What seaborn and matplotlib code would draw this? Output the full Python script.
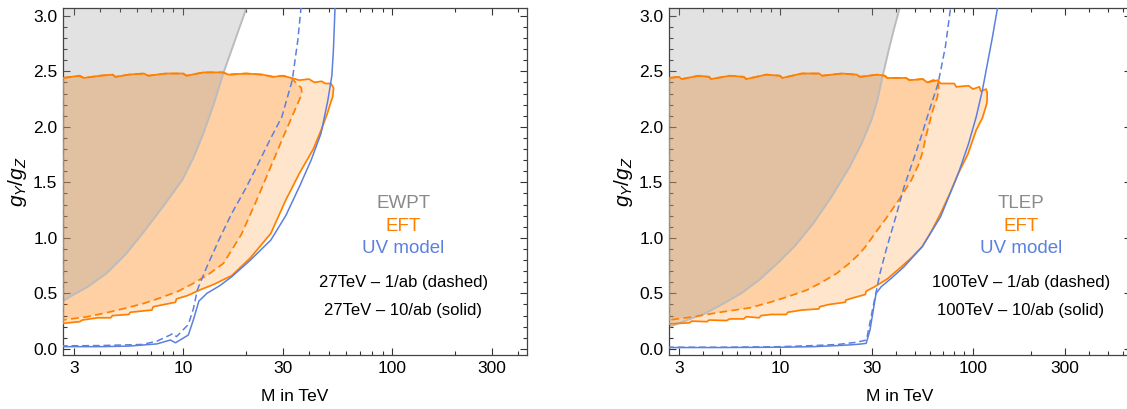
import matplotlib
matplotlib.use('Agg')
import matplotlib.pyplot as plt
import seaborn as sns
from matplotlib.ticker import FixedLocator, FixedFormatter, NullFormatter

# ---- 27 TeV panel data (M in TeV, g_Y/g_Z) ----
ewpt_M = [2.6, 3.0, 3.5, 4.3, 5.3, 6.4, 8.0, 9.9, 11.2, 12.5, 14.0, 15.5, 17.5, 19.5, 20.5]
ewpt_g = [0.42, 0.49, 0.56, 0.68, 0.85, 1.04, 1.28, 1.52, 1.72, 1.94, 2.20, 2.47, 2.75, 3.00, 3.12]

top27_M = [3.2, 3.35, 4.0, 4.6, 4.75, 5.5, 6.5, 6.8, 8.3, 10.0, 10.4, 12.5, 15.5, 16.5, 20.0, 24.0, 27.0, 30.0, 33.0]
top27_g = [2.46, 2.44, 2.46, 2.47, 2.45, 2.47, 2.48, 2.46, 2.48, 2.48, 2.46, 2.49, 2.49, 2.47, 2.48, 2.47, 2.45, 2.46, 2.44]

sol27_right_M = [36.0, 40.0, 42.5, 46.0, 48.0, 51.0, 52.5, 52.0, 51.3, 49.0, 46.0, 42.0, 36.0, 31.0, 26.3, 21.0, 17.1,
                 14.0, 12.0, 10.5, 9.3, 9.2, 7.2, 7.1, 5.6, 5.5, 4.6, 4.5, 3.9, 3.3, 3.2, 2.665]
sol27_right_g = [2.42, 2.43, 2.40, 2.41, 2.39, 2.39, 2.35, 2.27, 2.24, 2.12, 1.98, 1.80, 1.58, 1.34, 1.04, 0.82, 0.66,
                 0.58, 0.53, 0.48, 0.45, 0.42, 0.38, 0.35, 0.33, 0.31, 0.30, 0.28, 0.28, 0.26, 0.245, 0.23]

dash27_right_M = [34.5, 36.8, 37.0, 36.5, 33.0, 29.7, 26.0, 22.5, 19.0, 15.6, 13.2, 11.2, 9.5, 7.8, 6.5, 5.4, 4.4, 3.5, 2.665]
dash27_right_g = [2.40, 2.35, 2.30, 2.27, 2.08, 1.88, 1.62, 1.34, 1.03, 0.77, 0.67, 0.59, 0.52, 0.46, 0.41, 0.37, 0.33, 0.29, 0.26]

uv27_sol_M = [2.6, 4.0, 5.5, 7.5, 8.7, 9.2, 10.6, 11.2, 11.9, 13.0, 15.0, 17.1, 21.0, 26.3, 31.0, 36.0, 41.0, 45.7, 49.3, 51.5, 52.4, 53.4]
uv27_sol_g = [0.02, 0.02, 0.025, 0.045, 0.08, 0.055, 0.125, 0.26, 0.43, 0.50, 0.57, 0.65, 0.80, 0.98, 1.20, 1.46, 1.70, 1.94, 2.24, 2.46, 2.69, 3.10]

uv27_dash_M = [2.6, 4.0, 6.4, 7.5, 8.7, 8.95, 9.3, 10.6, 11.2, 11.7, 13.0, 15.0, 17.1, 20.0, 22.5, 26.0, 29.7, 33.3, 35.4, 36.8]
uv27_dash_g = [0.027, 0.03, 0.04, 0.07, 0.126, 0.14, 0.11, 0.22, 0.36, 0.53, 0.74, 1.00, 1.22, 1.45, 1.64, 1.88, 2.09, 2.42, 2.78, 3.10]

# ---- 100 TeV panel data ----
tlep_M = [2.6, 3.2, 4.1, 5.0, 6.3, 7.8, 9.7, 12.0, 14.9, 18.5, 23.0, 26.5, 29.8, 32.0, 34.0, 36.5, 39.0, 42.5]
tlep_g = [0.19, 0.25, 0.32, 0.40, 0.50, 0.62, 0.77, 0.93, 1.13, 1.37, 1.64, 1.85, 2.06, 2.24, 2.45, 2.68, 2.88, 3.12]

top100_M = [3.0, 3.1, 3.8, 4.3, 4.4, 5.5, 6.5, 6.7, 8.5, 10.0, 10.3, 13.0, 16.0, 16.5, 21.0, 25.0, 26.0, 32.0, 35.0,
            36.0, 45.0, 47.0, 55.0, 58.0]
top100_g = [2.45, 2.43, 2.46, 2.45, 2.43, 2.46, 2.45, 2.43, 2.47, 2.46, 2.44, 2.48, 2.48, 2.46, 2.48, 2.47, 2.45, 2.47, 2.46,
            2.44, 2.44, 2.42, 2.43, 2.40]

sol100_right_M = [66.0, 68.0, 80.0, 82.0, 95.0, 100.0, 108.0, 110.0, 117.0, 118.5, 118.5, 118.0, 112.0, 104.0, 94.0, 84.0,
                  76.0, 68.0, 61.0, 54.6, 48.0, 42.0, 36.0, 31.0, 28.0, 27.7, 24.0, 22.0, 21.8, 18.0, 16.1, 15.9, 13.0,
                  11.0, 10.8, 9.0, 8.0, 7.8, 6.7, 6.5, 5.5, 5.3, 4.3, 4.2, 3.5, 3.4, 2.665]
sol100_right_g = [2.42, 2.39, 2.39, 2.36, 2.37, 2.34, 2.36, 2.32, 2.34, 2.31, 2.25, 2.21, 2.08, 1.97, 1.75, 1.58,
                  1.40, 1.22, 1.06, 0.92, 0.82, 0.73, 0.63, 0.56, 0.52, 0.49, 0.46, 0.44, 0.42, 0.40, 0.38, 0.36, 0.35,
                  0.33, 0.31, 0.31, 0.30, 0.28, 0.29, 0.27, 0.27, 0.255, 0.26, 0.245, 0.25, 0.235, 0.225]

dash100_right_M = [62.0, 66.0, 66.5, 65.5, 62.0, 58.0, 54.6, 52.3, 48.0, 42.0, 36.0, 32.0, 28.6, 26.0, 22.5, 19.7, 16.5,
                   13.8, 11.0, 8.9, 7.0, 4.9, 3.6, 2.665]
dash100_right_g = [2.42, 2.42, 2.36, 2.27, 2.15, 1.96, 1.76, 1.66, 1.52, 1.36, 1.19, 1.07, 0.95, 0.86, 0.76, 0.68, 0.60,
                   0.53, 0.47, 0.42, 0.37, 0.33, 0.29, 0.26]

uv100_sol_M = [2.6, 5.0, 10.0, 14.9, 20.0, 23.0, 26.0, 28.0, 29.3, 31.5, 33.5, 38.0, 44.0, 54.6, 68.0, 84.0, 95.0, 104.0,
               112.0, 118.0, 126.0, 135.0]
uv100_sol_g = [0.012, 0.012, 0.015, 0.02, 0.03, 0.036, 0.043, 0.05, 0.17, 0.50, 0.56, 0.64, 0.74, 0.92, 1.19, 1.58, 1.85,
               2.09, 2.33, 2.54, 2.80, 3.10]

uv100_dash_M = [2.6, 5.0, 10.0, 15.0, 20.0, 25.0, 28.1, 29.0, 30.4, 33.0, 35.5, 40.0, 44.0, 50.0, 54.6, 60.0, 66.0, 72.0, 77.0]
uv100_dash_g = [0.015, 0.015, 0.02, 0.03, 0.04, 0.06, 0.08, 0.20, 0.38, 0.68, 0.89, 1.20, 1.46, 1.74, 1.94, 2.17, 2.39, 2.72, 3.10]

x_major = [3, 10, 30, 100, 300]
x_major_labels = ['3', '10', '30', '100', '300']
x_minor = [4, 5, 6, 7, 8, 9, 20, 40, 50, 60, 70, 80, 90, 200, 400, 500, 600]
y_major = [0.0, 0.5, 1.0, 1.5, 2.0, 2.5, 3.0]
y_minor = [i / 10 for i in range(31)]

ORANGE = '#ff8000'
BLUE = '#5b80dd'

sns.set_theme(style='ticks')
plt.rcParams['font.family'] = ['Liberation Sans', 'DejaVu Sans']
plt.rcParams['mathtext.fontset'] = 'custom'
plt.rcParams['mathtext.rm'] = 'Liberation Sans'
plt.rcParams['mathtext.it'] = 'Liberation Sans:italic'


def outline(start_g, top_M, top_g, right_M, right_g):
    # closed region: left edge, jagged top, right side and lower edge back to the start
    M = [2.665, 2.665] + top_M + right_M + [2.665]
    g = [start_g, 2.44] + top_g + right_g + [start_g]
    return M, g


def panel(ax, gray_M, gray_g, sol, dash, uv_sol, uv_dash, texts, xmax):
    ax.set_xscale('log')
    ax.fill(sol[0], sol[1], color=ORANGE, alpha=0.2, lw=0, zorder=1)
    ax.fill(dash[0], dash[1], color=ORANGE, alpha=0.2, lw=0, zorder=1)
    ax.fill_between(gray_M, gray_g, 3.3, color='#a0a0a0', alpha=0.3, lw=0, zorder=2)
    sns.lineplot(x=gray_M, y=gray_g, sort=False, estimator=None, color='#bcbcbc', lw=1.4, ax=ax, zorder=2.5)
    sns.lineplot(x=sol[0], y=sol[1], sort=False, estimator=None, color=ORANGE, lw=1.25, ax=ax, zorder=3)
    sns.lineplot(x=dash[0], y=dash[1], sort=False, estimator=None, color=ORANGE, lw=1.25,
                 linestyle=(0, (4.5, 2.5)), ax=ax, zorder=3)
    sns.lineplot(x=uv_sol[0], y=uv_sol[1], sort=False, estimator=None, color=BLUE, lw=1.1, ax=ax, zorder=4)
    sns.lineplot(x=uv_dash[0], y=uv_dash[1], sort=False, estimator=None, color=BLUE, lw=1.1,
                 linestyle=(0, (4.5, 2.5)), ax=ax, zorder=4)

    ax.set_xlim(2.665, xmax)
    ax.set_ylim(-0.055, 3.07)
    ax.xaxis.set_major_locator(FixedLocator(x_major))
    ax.xaxis.set_major_formatter(FixedFormatter(x_major_labels))
    ax.xaxis.set_minor_locator(FixedLocator(x_minor))
    ax.xaxis.set_minor_formatter(NullFormatter())
    ax.yaxis.set_major_locator(FixedLocator(y_major))
    ax.yaxis.set_minor_locator(FixedLocator(y_minor))
    ax.yaxis.set_major_formatter(FixedFormatter(['0.0', '0.5', '1.0', '1.5', '2.0', '2.5', '3.0']))
    ax.tick_params(which='both', direction='in', top=True, right=True, color='#333333',
                   labelsize=12.5, labelcolor='black', pad=4)
    ax.tick_params(which='major', length=5, width=0.8)
    ax.tick_params(which='minor', length=3, width=0.8)
    for s in ax.spines.values():
        s.set_color('#444444')
        s.set_linewidth(0.9)
    ax.set_xlabel('M in TeV', fontsize=12.5, color='black', labelpad=10)
    ax.set_ylabel(r'$g_Y/g_Z$', fontsize=15, color='black', labelpad=3)

    xt, names = texts
    ax.text(xt, 1.31, names[0], color='#8a8a8a', fontsize=13.5, ha='center', va='center')
    ax.text(xt, 1.10, 'EFT', color=ORANGE, fontsize=13.5, ha='center', va='center')
    ax.text(xt, 0.90, 'UV model', color=BLUE, fontsize=13.5, ha='center', va='center')
    ax.text(xt, 0.60, names[1], color='black', fontsize=12, ha='center', va='center')
    ax.text(xt, 0.35, names[2], color='black', fontsize=12, ha='center', va='center')


fig = plt.figure(figsize=(11.27, 4.09), dpi=100)
ax1 = fig.add_axes([63 / 1127, 54 / 409, 464 / 1127, 347 / 409])
ax2 = fig.add_axes([669 / 1127, 54 / 409, 462 / 1127, 347 / 409])

sol27 = outline(0.23, top27_M, top27_g, sol27_right_M, sol27_right_g)
dash27 = outline(0.26, top27_M, top27_g, dash27_right_M, dash27_right_g)
panel(ax1, ewpt_M, ewpt_g, sol27, dash27, (uv27_sol_M, uv27_sol_g), (uv27_dash_M, uv27_dash_g),
      (113, ['EWPT', '27TeV \u2013 1/ab (dashed)', '27TeV \u2013 10/ab (solid)']), 442)

sol100 = outline(0.225, top100_M, top100_g, sol100_right_M, sol100_right_g)
dash100 = outline(0.26, top100_M, top100_g, dash100_right_M, dash100_right_g)
panel(ax2, tlep_M, tlep_g, sol100, dash100, (uv100_sol_M, uv100_sol_g), (uv100_dash_M, uv100_dash_g),
      (177, ['TLEP', '100TeV \u2013 1/ab (dashed)', '100TeV \u2013 10/ab (solid)']), 659)

fig.savefig('out.png', dpi=100)
